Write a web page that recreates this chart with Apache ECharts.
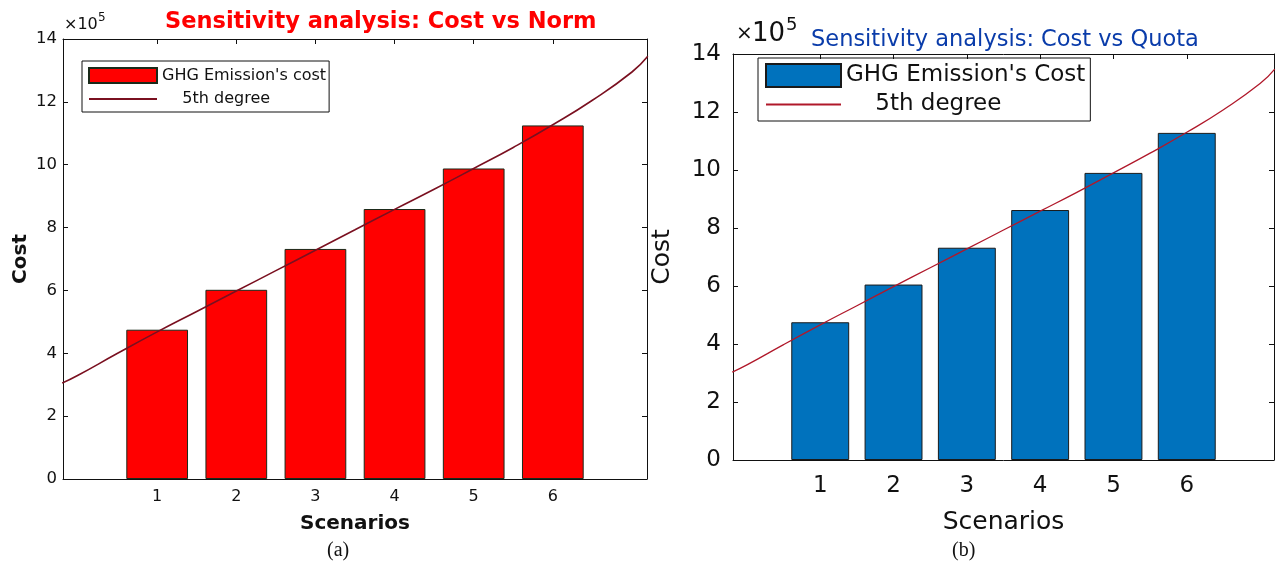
<!DOCTYPE html>
<html><head><meta charset="utf-8">
<script src="https://cdn.jsdelivr.net/npm/echarts@6/dist/echarts.min.js"></script>
<style>html,body{margin:0;padding:0;background:#fff}#c{width:1277px;height:570px}</style>
</head><body><div id="c"></div>
<script>
// values in units of 10^5
const scenarios = [1, 2, 3, 4, 5, 6];
const costNorm  = [4.75, 6.02, 7.32, 8.59, 9.88, 11.25];
const costQuota = [4.75, 6.05, 7.32, 8.62, 9.90, 11.28];
// 5th degree fit curve
const fitX     = [-0.2, 0, 0.5, 1, 1.5, 2, 2.5, 3, 3.5, 4, 4.5, 5, 5.5, 6, 6.5, 7, 7.2];
const fitNorm  = [3.05, 3.30, 4.00, 4.68, 5.33, 5.98, 6.63, 7.28, 7.93, 8.58, 9.22, 9.88, 10.55, 11.27, 12.05, 12.95, 13.45];
const fitQuota = [3.03, 3.28, 3.98, 4.66, 5.32, 5.98, 6.63, 7.28, 7.93, 8.58, 9.23, 9.90, 10.58, 11.30, 12.08, 12.98, 13.48];
const yTicks = [0, 2, 4, 6, 8, 10, 12, 14];

const W = 1277, H = 570;
const xMin = -0.19, xMax = 7.19;
const gA = {left: 63, top: 39, right: W - 647, bottom: H - 479};
const gB = {left: 733, top: 54, right: W - 1274, bottom: H - 460};
const pxA = (W - gA.left - gA.right) / (xMax - xMin);
const pxB = (W - gB.left - gB.right) / (xMax - xMin);

const chart = echarts.init(document.getElementById('c'), null, {renderer: 'canvas'});

const axLine = {show: true, onZero: false, lineStyle: {color: '#111', width: 1}};
function xAxes(gi, fs, margin, nameGap, bold) {
  return [{
    type: 'value', gridIndex: gi, min: xMin, max: xMax, position: 'bottom',
    name: 'Scenarios', nameLocation: 'middle', nameGap: nameGap,
    nameTextStyle: {color: '#111', fontSize: bold ? 20 : 25, fontWeight: bold ? 'bold' : 'normal', fontFamily: 'DejaVu Sans'},
    axisLine: axLine,
    axisTick: {show: true, inside: true, length: 5, customValues: scenarios, lineStyle: {color: '#111'}},
    axisLabel: {show: true, customValues: scenarios, color: '#111', fontSize: fs, margin: margin, fontFamily: 'DejaVu Sans'},
    splitLine: {show: false}
  }, {
    type: 'value', gridIndex: gi, min: xMin, max: xMax, position: 'top',
    axisLine: axLine,
    axisTick: {show: true, inside: true, length: 5, customValues: scenarios, lineStyle: {color: '#111'}},
    axisLabel: {show: false}, splitLine: {show: false}
  }];
}
function yAxes(gi, fs, margin, nameGap, bold) {
  return [{
    type: 'value', gridIndex: gi, min: 0, max: 14, interval: 2, position: 'left',
    name: 'Cost', nameLocation: 'middle', nameGap: nameGap,
    nameTextStyle: {color: '#111', fontSize: bold ? 20 : 25, fontWeight: bold ? 'bold' : 'normal', fontFamily: 'DejaVu Sans'},
    axisLine: axLine,
    axisTick: {show: true, inside: true, length: 5, customValues: yTicks, lineStyle: {color: '#111'}},
    axisLabel: {color: '#111', fontSize: fs, margin: margin, fontFamily: 'DejaVu Sans', customValues: yTicks},
    splitLine: {show: false}
  }, {
    type: 'value', gridIndex: gi, min: 0, max: 14, interval: 2, position: 'right',
    axisLine: axLine,
    axisTick: {show: true, inside: true, length: 5, customValues: yTicks, lineStyle: {color: '#111'}},
    axisLabel: {show: false}, splitLine: {show: false}
  }];
}

const hideSym = {color: 'rgba(0,0,0,0)', borderWidth: 0, opacity: 0};

const option = {
  animation: false,
  backgroundColor: '#fff',
  title: [
    {text: 'Sensitivity analysis: Cost vs Norm', left: 160, top: 6,
     textStyle: {color: '#ff0000', fontSize: 22.5, fontWeight: 'bold', fontFamily: 'DejaVu Sans'}},
    {text: 'Sensitivity analysis: Cost vs Quota', left: 806, top: 24,
     textStyle: {color: '#0a3caa', fontSize: 22.5, fontWeight: 'normal', fontFamily: 'DejaVu Sans'}}
  ],
  grid: [
    Object.assign({containLabel: false}, gA),
    Object.assign({containLabel: false}, gB)
  ],
  xAxis: [].concat(xAxes(0, 16, 10, 35, true), xAxes(1, 23, 15, 50, false)),
  yAxis: [].concat(yAxes(0, 16.5, 6, 32, true), yAxes(1, 23, 12, 58, false)),
  legend: [
    {
      left: 82, top: 61, orient: 'vertical', padding: [6, 3, 5, 6], itemGap: 7,
      itemWidth: 68, itemHeight: 15, borderColor: '#111', borderWidth: 1, borderRadius: 0,
      data: [{name: "GHG Emission's cost", icon: 'rect'}, {name: '5th degree', itemStyle: hideSym}],
      formatter: function (n) { return n === '5th degree' ? '    5th degree' : n; },
      textStyle: {color: '#111', fontSize: 16, fontFamily: 'DejaVu Sans'}
    },
    {
      left: 758, top: 58, orient: 'vertical', padding: [5, 5, 5, 7], itemGap: 5,
      itemWidth: 75, itemHeight: 23, borderColor: '#111', borderWidth: 1, borderRadius: 0,
      data: [{name: "GHG Emission's Cost", icon: 'rect'}, {name: '5th degree ', itemStyle: hideSym}],
      formatter: function (n) { return n === '5th degree ' ? '    5th degree' : n; },
      textStyle: {color: '#111', fontSize: 23, fontFamily: 'DejaVu Sans'}
    }
  ],
  graphic: [
    {type: 'text', left: 64, top: 17, style: {text: '×10', fontSize: 16, fill: '#111', fontFamily: 'DejaVu Sans'}},
    {type: 'text', left: 98, top: 12, style: {text: '5', fontSize: 12, fill: '#111', fontFamily: 'DejaVu Sans'}},
    {type: 'text', left: 736, top: 24, style: {text: '×', fontSize: 20, fill: '#111', fontFamily: 'DejaVu Sans'}},
    {type: 'text', left: 752, top: 21, style: {text: '10', fontSize: 26, fill: '#111', fontFamily: 'DejaVu Sans'}},
    {type: 'text', left: 786, top: 16, style: {text: '5', fontSize: 18, fill: '#111', fontFamily: 'DejaVu Sans'}},
    {type: 'text', left: 327, top: 541, style: {text: '(a)', fontSize: 20, fill: '#111', fontFamily: 'Liberation Serif'}},
    {type: 'text', left: 952, top: 541, style: {text: '(b)', fontSize: 20, fill: '#111', fontFamily: 'Liberation Serif'}}
  ],
  series: [
    {
      name: "GHG Emission's cost", type: 'bar', xAxisIndex: 0, yAxisIndex: 0,
      barWidth: 0.78 * pxA,
      data: scenarios.map((s, i) => [s, costNorm[i]]),
      itemStyle: {color: '#ff0000', borderColor: '#1a2a1a', borderWidth: 1}
    },
    {
      name: '5th degree', type: 'line', xAxisIndex: 0, yAxisIndex: 0,
      symbol: 'none', smooth: true,
      data: fitX.map((x, i) => [x, fitNorm[i]]),
      lineStyle: {color: '#7a1020', width: 1.6}, itemStyle: {color: '#7a1020'}
    },
    {
      name: "GHG Emission's Cost", type: 'bar', xAxisIndex: 2, yAxisIndex: 2,
      barWidth: 0.79 * pxB,
      data: scenarios.map((s, i) => [s, costQuota[i]]),
      itemStyle: {color: '#0072bd', borderColor: '#1a1a1a', borderWidth: 1}
    },
    {
      name: '5th degree ', type: 'line', xAxisIndex: 2, yAxisIndex: 2,
      symbol: 'none', smooth: true,
      data: fitX.map((x, i) => [x, fitQuota[i]]),
      lineStyle: {color: '#b0182a', width: 1.3}, itemStyle: {color: '#b0182a'}
    }
  ]
};
chart.setOption(option);
</script></body></html>
